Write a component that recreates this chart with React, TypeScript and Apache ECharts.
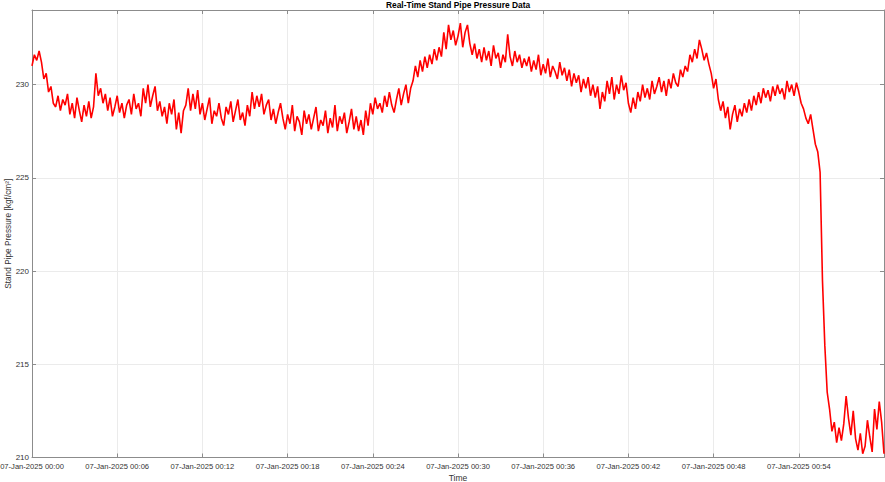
import React, { useEffect, useRef } from "react";
import * as echarts from "echarts";

// Stand pipe pressure, one reading every 10 s from 00:00 to 01:00 (kgf/cm²)
const pressure: number[] = [
  // 00:00
  231.0, 231.6, 231.3, 231.8, 231.2, 230.3,
  230.6, 229.6, 229.9, 229.0, 228.8, 229.4,
  228.6, 229.2, 228.9, 229.5, 228.4, 229.0,
  228.2, 229.3, 228.6, 228.0, 228.9, 228.3,
  229.1, 228.2, 228.8, 230.6, 229.4, 229.8,
  229.0, 229.5, 228.6, 229.3, 228.3, 228.8,
  // 00:06
  229.4, 228.5, 229.0, 228.2, 228.9, 229.2,
  228.4, 229.5, 228.7, 229.0, 228.3, 229.8,
  229.0, 230.0, 228.8, 229.4, 229.9, 228.6,
  229.1, 228.3, 228.8, 227.9, 229.0, 228.4,
  229.2, 227.6, 228.5, 227.4, 228.6, 228.9,
  229.8, 228.6, 229.5, 228.7, 229.7, 228.4,
  // 00:12
  229.0, 228.1, 228.7, 229.3, 227.9, 228.6,
  228.3, 229.0, 228.2, 227.8, 228.8, 228.4,
  229.1, 228.0, 228.6, 229.2, 228.1, 228.5,
  227.8, 228.9, 228.3, 229.6, 228.7, 229.4,
  228.8, 229.5, 228.4, 228.9, 229.2, 228.1,
  228.7, 227.9, 228.5, 229.0, 228.2, 227.6,
  // 00:18
  228.4, 227.9, 228.9, 227.5, 228.3, 228.0,
  227.3, 228.6, 227.9, 228.4, 227.6, 228.2,
  228.8, 227.5, 228.1, 227.8, 228.6, 227.4,
  228.2, 227.7, 228.9, 227.5, 228.3, 227.9,
  228.5, 227.4, 228.0, 228.7, 227.6, 228.3,
  227.5, 228.1, 227.3, 228.6, 227.8, 229.0,
  // 00:24
  228.4, 229.3, 228.7, 229.0, 228.5, 229.4,
  228.8, 229.6, 228.9, 228.5, 229.2, 229.8,
  228.9, 229.5, 230.0, 229.0, 229.8, 230.2,
  231.0, 230.4, 231.3, 230.7, 231.5, 230.9,
  231.6, 231.1, 231.9, 231.3, 232.0, 231.5,
  232.8, 231.9, 233.2, 232.4, 232.9, 232.1,
  // 00:30
  232.6, 233.3, 232.0, 232.8, 233.2, 232.2,
  231.6, 232.2, 231.4, 231.9, 231.2, 232.0,
  231.3, 231.8, 231.0, 232.1, 231.4, 231.7,
  230.9, 231.6, 231.2, 232.7, 231.5, 231.0,
  231.8, 231.2, 231.6, 230.9, 231.4, 231.0,
  231.5, 230.7, 231.3, 230.8, 231.6, 230.5,
  // 00:36
  231.1, 230.6, 231.4, 230.4, 231.0, 230.7,
  230.3, 231.2, 230.5, 230.9, 230.2, 230.8,
  229.9, 230.6, 230.1, 230.5, 229.6, 230.3,
  229.8, 230.4, 229.4, 230.0, 229.3, 229.9,
  228.7, 229.6, 229.1, 230.2, 229.5, 230.4,
  229.2, 230.0, 229.5, 230.5, 229.7, 230.1,
  // 00:42
  229.0, 228.5, 229.3, 228.7, 229.6, 229.1,
  230.0, 229.3, 229.8, 229.2, 230.2, 229.5,
  229.9, 230.4, 229.6, 230.2, 229.4, 230.3,
  229.8, 230.6, 230.1, 229.9, 230.8, 230.4,
  231.0, 230.7, 231.6, 231.2, 231.9, 231.4,
  232.4, 231.9, 231.3, 231.7, 231.1, 230.6,
  // 00:48
  229.8, 230.3, 229.2, 228.6, 229.1, 228.2,
  228.8, 227.6, 228.4, 228.9, 228.0, 228.7,
  228.3, 229.0, 228.5, 229.2, 228.6, 229.4,
  228.9, 229.6, 229.0, 229.8, 229.3, 229.7,
  229.1, 229.9, 229.4, 230.0, 229.5, 229.8,
  229.2, 230.2, 229.6, 230.0, 229.4, 230.1,
  // 00:54
  229.6, 229.0, 228.7, 228.2, 227.9, 228.4,
  227.6, 226.8, 226.4, 225.3, 219.5, 216.0,
  213.5, 212.6, 211.4, 211.9, 210.8, 211.6,
  210.9, 211.8, 213.3, 212.1, 211.2, 212.5,
  211.0, 210.4, 211.3, 210.2, 210.6, 212.0,
  211.1, 210.3, 212.6, 211.5, 213.0, 211.9,
  // 01:00
  210.2,
];

const SAMPLES_PER_MINUTE = 6;
const xTickMinutes = [0, 6, 12, 18, 24, 30, 36, 42, 48, 54];
const yTicks = [210, 215, 220, 225, 230];
const datePrefix = "07-Jan-2025 00:";
const titleText = "Real-Time Stand Pipe Pressure Data";
const yName = "Stand Pipe Pressure [kgf/cm²]";
const xName = "Time";

const FONT = "'Liberation Sans', Arial, Helvetica, sans-serif";
const AXIS_COLOR = "#8c8c8c";
const TEXT_COLOR = "#333333";
const GRID_COLOR = "#ebebeb";

export default function App() {
  const ref = useRef<HTMLDivElement>(null);

  useEffect(() => {
    if (!ref.current) return;
    const chart = echarts.init(ref.current, undefined, { renderer: "svg" });
    const seriesData = pressure.map((v, i) => [i / SAMPLES_PER_MINUTE, v]);

    const xLabel = (v: number) => {
      if (!xTickMinutes.includes(Math.round(v))) return "";
      const m = Math.round(v);
      return datePrefix + (m < 10 ? "0" + m : String(m));
    };
    const yLabel = (v: number) => (yTicks.includes(v) ? String(v) : "");

    const baseX = {
      type: "value" as const,
      min: 0,
      max: 60,
      interval: 6,
    };
    const baseY = {
      type: "value" as const,
      min: 210,
      max: 234,
      interval: 5,
    };

    chart.setOption({
      animation: false,
      backgroundColor: "#ffffff",
      grid: {
        left: 32,
        right: 1,
        top: 10,
        bottom: 24.5,
        containLabel: false,
        outerBoundsMode: "none",
      },
      graphic: [
        {
          type: "text",
          x: 458,
          y: 5,
          style: {
            text: titleText,
            fill: "#000000",
            font: `bold 8.4px ${FONT}`,
            textAlign: "center",
            textVerticalAlign: "middle",
          },
        },
      ],
      xAxis: [
        {
          ...baseX,
          position: "bottom",
          name: xName,
          nameLocation: "middle",
          nameGap: 16,
          nameMoveOverlap: false,
          nameTextStyle: { fontSize: 8.5, color: TEXT_COLOR, fontFamily: FONT },
          axisLine: { show: true, onZero: false, lineStyle: { color: AXIS_COLOR, width: 1 } },
          axisTick: { show: true, inside: true, length: 4, lineStyle: { color: AXIS_COLOR } },
          axisLabel: {
            show: true,
            formatter: xLabel,
            fontSize: 7.6,
            color: TEXT_COLOR,
            fontFamily: FONT,
            margin: 4.5,
            showMaxLabel: false,
          },
          splitLine: { show: true, lineStyle: { color: GRID_COLOR, width: 1 } },
        },
        {
          ...baseX,
          position: "top",
          axisLine: { show: true, onZero: false, lineStyle: { color: AXIS_COLOR, width: 1 } },
          axisTick: { show: true, inside: true, length: 4, lineStyle: { color: AXIS_COLOR } },
          axisLabel: { show: false },
          splitLine: { show: false },
        },
      ],
      yAxis: [
        {
          ...baseY,
          position: "left",
          name: yName,
          nameLocation: "middle",
          nameGap: 20,
          nameMoveOverlap: false,
          nameRotate: 90,
          nameTextStyle: { fontSize: 8.3, color: TEXT_COLOR, fontFamily: FONT },
          axisLine: { show: true, onZero: false, lineStyle: { color: AXIS_COLOR, width: 1 } },
          axisTick: { show: true, inside: true, length: 4, lineStyle: { color: AXIS_COLOR } },
          axisLabel: {
            show: true,
            formatter: yLabel,
            fontSize: 8,
            color: TEXT_COLOR,
            fontFamily: FONT,
            margin: 3,
          },
          splitLine: { show: true, lineStyle: { color: GRID_COLOR, width: 1 } },
        },
        {
          ...baseY,
          position: "right",
          axisLine: { show: true, onZero: false, lineStyle: { color: AXIS_COLOR, width: 1 } },
          axisTick: { show: true, inside: true, length: 4, lineStyle: { color: AXIS_COLOR } },
          axisLabel: { show: false },
          splitLine: { show: false },
        },
      ],
      series: [
        {
          type: "line",
          xAxisIndex: 0,
          yAxisIndex: 0,
          data: seriesData,
          showSymbol: false,
          symbol: "none",
          lineStyle: { color: "#ff0000", width: 1.6 },
          z: 5,
        },
      ],
    });

    return () => chart.dispose();
  }, []);

  return (
    <div
      ref={ref}
      style={{ position: "fixed", left: 0, top: 0, width: 885, height: 482, background: "#fff" }}
    />
  );
}
